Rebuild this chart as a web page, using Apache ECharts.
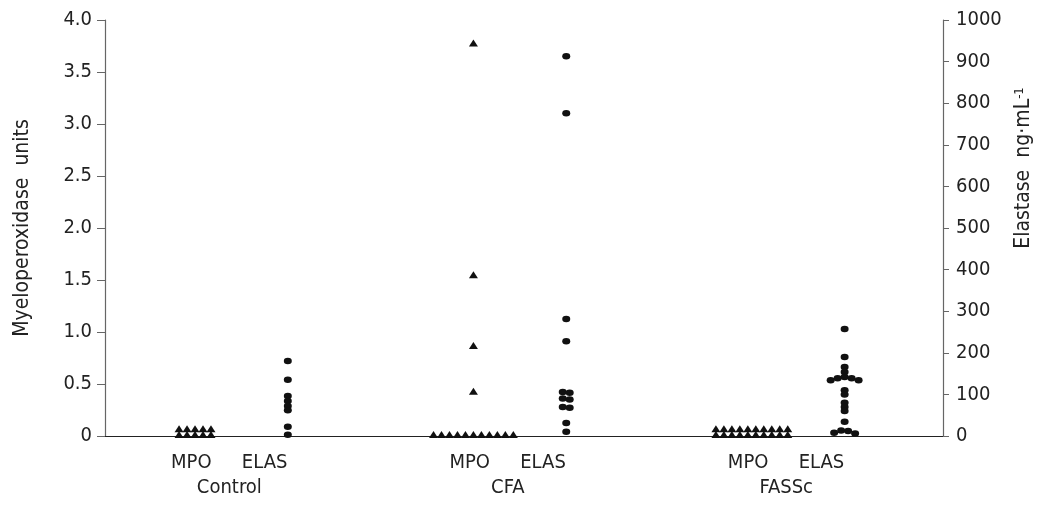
<!DOCTYPE html>
<html>
<head>
<meta charset="utf-8">
<script src="https://cdn.jsdelivr.net/npm/echarts@6/dist/echarts.min.js"></script>
<style>
  html, body { margin: 0; padding: 0; background: #fff; }
  #chart { width: 1042px; height: 505px; }
</style>
</head>
<body>
<div id="chart"></div>
<script>
// values
const groups = ['Control', 'CFA', 'FASSc'];
const markers = ['MPO', 'ELAS'];

// myeloperoxidase units (left axis)
const controlMPO = [0.07, 0.07, 0.07, 0.07, 0.07, 0.015, 0.015, 0.015, 0.015, 0.015];
const cfaMPO = [3.78, 1.55, 0.87, 0.43,
  0.015, 0.015, 0.015, 0.015, 0.015, 0.015, 0.015, 0.015, 0.015, 0.015, 0.015];
const fasscMPO = [0.07, 0.07, 0.07, 0.07, 0.07, 0.07, 0.07, 0.07, 0.07, 0.07,
  0.015, 0.015, 0.015, 0.015, 0.015, 0.015, 0.015, 0.015, 0.015, 0.015];

// elastase ng/mL (right axis)
const controlELAS = [180, 135, 96, 84, 72, 62, 22, 3];
const cfaELAS = [913, 776, 281, 228, 106, 104, 90, 88, 70, 68, 31, 10];
const fasscELAS = [257, 190, 166, 154, 142, 139, 139, 134, 134, 110, 100,
  80, 70, 60, 34, 13, 12, 8, 6];

// axis ticks
const mpoTicks = { min: 0, max: 4, interval: 0.5 };
const elasTicks = { min: 0, max: 1000, interval: 100 };

// slot positions on the hidden x scale
const groupSlot = [0, 3, 6];
const X_MIN = -0.97, X_MAX = 8.06;
const mpoLabelPos = groupSlot.map(s => s - 0.04);
const elasLabelPos = groupSlot.map(s => s + 0.75);
const groupLabelPos = groupSlot.map(s => s + 0.37);

const GRID = { left: 105, right: 97, top: 20, bottom: 69 };
const PLOT_W = 1042 - GRID.left - GRID.right;
const PLOT_H = 505 - GRID.top - GRID.bottom;
const PX_PER_X = PLOT_W / (X_MAX - X_MIN);
const BIN_PX = 3.6;

// simple row-binned dot plot layout, centre-out inside each row
function swarm(values, slot, pxPerY, stepPx) {
  const sorted = values.slice().sort((a, b) => b - a);
  const bins = [];
  sorted.forEach(v => {
    const last = bins[bins.length - 1];
    if (last && (last[0] - v) * pxPerY <= BIN_PX) last.push(v);
    else bins.push([v]);
  });
  const pts = [];
  bins.forEach(bin => {
    const n = bin.length;
    const offs = [];
    for (let i = 0; i < n; i++) offs.push(i - (n - 1) / 2);
    offs.sort((a, b) => Math.abs(a) - Math.abs(b) || a - b);
    bin.forEach((v, i) => pts.push([slot + offs[i] * stepPx / PX_PER_X, v]));
  });
  return pts;
}

const mpoPxPerY = PLOT_H / (mpoTicks.max - mpoTicks.min);
const elasPxPerY = PLOT_H / (elasTicks.max - elasTicks.min);

const mpoData = [controlMPO, cfaMPO, fasscMPO];
const elasData = [controlELAS, cfaELAS, fasscELAS];

const FONT = "'Liberation Sans Narrow', 'DejaVu Sans Condensed', Roboto, sans-serif";
const TXT = '#222';

const series = [];
groups.forEach((g, i) => {
  series.push({
    name: g + ' MPO',
    type: 'scatter',
    xAxisIndex: 0,
    yAxisIndex: 0,
    symbol: 'triangle',
    symbolSize: [9, 7],
    itemStyle: { color: '#111', opacity: 1 },
    data: swarm(mpoData[i], groupSlot[i], mpoPxPerY, 8),
  });
  series.push({
    name: g + ' ELAS',
    type: 'scatter',
    xAxisIndex: 0,
    yAxisIndex: 1,
    symbol: 'circle',
    symbolSize: [8, 6.5],
    itemStyle: { color: '#111', opacity: 1 },
    data: swarm(elasData[i], groupSlot[i] + 1, elasPxPerY, 7),
  });
});

const labelAxis = (customValues, fmt, offset) => ({
  type: 'value',
  position: 'bottom',
  min: X_MIN,
  max: X_MAX,
  offset: offset,
  axisLine: { show: false },
  axisTick: { show: false },
  splitLine: { show: false },
  axisLabel: {
    customValues: customValues,
    formatter: fmt,
    color: TXT,
    fontSize: 20,
    fontFamily: FONT,
    margin: 17,
  },
});

function pick(list, names) {
  return v => {
    const k = list.findIndex(p => Math.abs(p - v) < 1e-6);
    return k >= 0 ? names[k] : '';
  };
}

const rowPos = mpoLabelPos.concat(elasLabelPos);
const rowNames = groups.map(() => markers[0]).concat(groups.map(() => markers[1]));

const chart = echarts.init(document.getElementById('chart'));
chart.setOption({
  animation: false,
  backgroundColor: '#fff',
  textStyle: { fontFamily: FONT },
  grid: GRID,
  xAxis: [
    {
      type: 'value',
      min: X_MIN,
      max: X_MAX,
      axisLine: { show: true, onZero: false, lineStyle: { color: '#222', width: 1.2 } },
      axisTick: { show: false },
      axisLabel: { show: false },
      splitLine: { show: false },
    },
    labelAxis(rowPos, pick(rowPos, rowNames), 0),
    labelAxis(groupLabelPos, pick(groupLabelPos, groups), 25),
  ],
  yAxis: [
    {
      type: 'value',
      position: 'left',
      min: mpoTicks.min,
      max: mpoTicks.max,
      interval: mpoTicks.interval,
      name: 'Myeloperoxidase  units',
      nameLocation: 'middle',
      nameRotate: 90,
      nameGap: 72,
      nameTextStyle: { color: TXT, fontSize: 21, fontFamily: FONT },
      axisLine: { show: true, onZero: false, lineStyle: { color: '#666', width: 1.2 } },
      axisTick: { show: true, length: 8, lineStyle: { color: '#666' } },
      axisLabel: {
        color: TXT, fontSize: 20, fontFamily: FONT, margin: 13,
        formatter: v => (v === 0 ? '0' : v.toFixed(1)),
      },
      splitLine: { show: false },
    },
    {
      type: 'value',
      position: 'right',
      min: elasTicks.min,
      max: elasTicks.max,
      interval: elasTicks.interval,
      name: '{n|Elastase  ng·mL}{s|-1}',
      nameLocation: 'middle',
      nameRotate: 90,
      nameGap: 70,
      nameTextStyle: {
        color: TXT, fontSize: 21, fontFamily: FONT,
        padding: [0, 0, 0, 120],
        rich: {
          n: { fontSize: 21, fontFamily: FONT, color: TXT },
          s: { fontSize: 13, fontFamily: FONT, color: TXT, verticalAlign: 'top', padding: [0, 0, 6, 0] },
        },
      },
      axisLine: { show: true, onZero: false, lineStyle: { color: '#666', width: 1.2 } },
      axisTick: { show: true, length: 6, lineStyle: { color: '#666' } },
      axisLabel: { color: TXT, fontSize: 20, fontFamily: FONT, margin: 13, formatter: v => String(v) },
      splitLine: { show: false },
    },
  ],
  series: series,
});
</script>
</body>
</html>
